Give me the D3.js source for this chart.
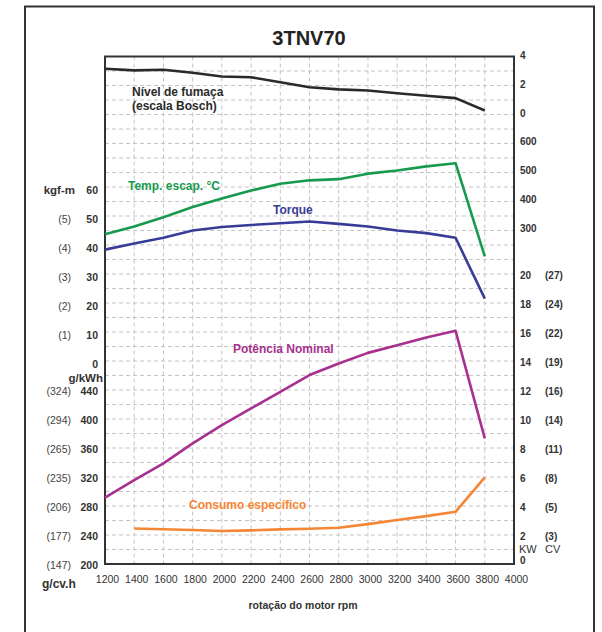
<!DOCTYPE html>
<html><head><meta charset="utf-8">
<script src="https://cdn.jsdelivr.net/npm/d3@7"></script>
<style>body{margin:0;background:#fff;}svg{display:block;font-family:"Liberation Sans",Arial,sans-serif;}</style>
</head><body>
<script>
const rpm = [1200,1400,1600,1800,2000,2200,2400,2600,2800,3000,3200,3400,3600,3800];
const smoke = [3.15,3.04,3.09,2.88,2.62,2.57,2.23,1.88,1.73,1.66,1.47,1.29,1.13,0.28];
const temp = [287,314,346,381,410,438,461,473,477,496,507,521,532,211];
const torque = [38.4,40.5,42.5,45.0,46.2,46.9,47.5,48.1,47.3,46.4,45.0,44.1,42.5,21.5];
const power = [4.57,5.79,6.94,8.32,9.58,10.73,11.87,13.03,13.83,14.56,15.09,15.62,16.08,8.66];
const bsfcRpm = [1400,1600,1800,2000,2200,2400,2600,2800,3000,3200,3400,3600,3800];
const bsfc = [249,248,247,245.5,246.4,247.8,248.6,250,255,260.6,266,272,319.5];

const xTicks = [1200,1400,1600,1800,2000,2200,2400,2600,2800,3000,3200,3400,3600,3800,4000];
const torqueTicks = [60,50,40,30,20,10,0];
const torqueKgf = ["","(5)","(4)","(3)","(2)","(1)",""];
const bsfcTicks = [440,400,360,320,280,240,200];
const bsfcCv = ["(324)","(294)","(265)","(235)","(206)","(177)","(147)"];
const smokeTicks = [4,2,0];
const tempTicks = [600,500,400,300];
const kwTicks = [20,18,16,14,12,10,8,6,4,2];
const cvLabels = ["(27)","(24)","(22)","(19)","(16)","(14)","(11)","(8)","(5)","(3)"];

const W=602,H=632;
const svg = d3.select("body").append("svg").attr("width",W).attr("height",H);

const x = d3.scaleLinear([1200,4000],[105,514]);
const g = d3.scaleLinear([0,35],[56.5,564]);
const ySmoke = d3.scaleLinear([0,4],[g(4),g(0)]);
const yTemp = d3.scaleLinear([300,600],[g(12),g(6)]);
const yTorque = d3.scaleLinear([0,60],[g(21),g(9)]);
const yKW = d3.scaleLinear([0,20],[g(35),g(15)]);
const yBsfc = d3.scaleLinear([200,440],[g(35),g(23)]);

// outer frame
svg.append("rect").attr("x",25).attr("y",6.5).attr("width",569).attr("height",660)
  .attr("fill","none").attr("stroke","#333").attr("stroke-width",2);

// title
svg.append("text").attr("x",309).attr("y",45).attr("text-anchor","middle")
  .attr("font-size",20).attr("font-weight","bold").attr("fill","#222").text("3TNV70");

// grid
const grid = svg.append("g").attr("stroke","#c4c4c4").attr("stroke-width",1).attr("stroke-dasharray","4,3");
grid.selectAll("line.h").data(d3.range(1,35)).join("line")
  .attr("x1",x(1200)).attr("x2",x(4000)).attr("y1",d=>g(d)).attr("y2",d=>g(d));
grid.selectAll("line.v").data(xTicks.slice(1,-1)).join("line")
  .attr("x1",d=>x(d)).attr("x2",d=>x(d)).attr("y1",g(0)).attr("y2",g(35));

// plot frame
svg.append("rect").attr("x",x(1200)).attr("y",g(0)).attr("width",x(4000)-x(1200)).attr("height",g(35)-g(0))
  .attr("fill","none").attr("stroke","#333").attr("stroke-width",2);

// x axis labels
const xAxis = d3.axisBottom(x).tickValues(xTicks).tickFormat(d3.format("d")).tickSize(0).tickPadding(0);
const xa = svg.append("g").attr("transform",`translate(2,${g(35)})`).call(xAxis);
xa.select(".domain").remove();
xa.selectAll("text").attr("y",16).attr("dy","0.32em").attr("font-size",10.5).attr("fill","#333")
  .attr("font-family","Liberation Sans, Arial, sans-serif");
svg.append("text").attr("x",303).attr("y",609).attr("text-anchor","middle")
  .attr("font-size",10.5).attr("font-weight","bold").attr("fill","#333").text("rotação do motor rpm");

// left labels
const left = svg.append("g").attr("font-size",10.5);
left.selectAll("text.t").data(torqueTicks).join("text")
  .attr("x",98).attr("y",d=>yTorque(d)+3).attr("dy","0.35em").attr("text-anchor","end")
  .attr("font-weight","bold").attr("fill","#333").text(d=>d);
left.selectAll("text.tk").data(torqueTicks).join("text")
  .attr("x",71).attr("y",d=>yTorque(d)+3).attr("dy","0.35em").attr("text-anchor","end")
  .attr("fill","#444").text((d,i)=>torqueKgf[i]);
left.selectAll("text.b").data(bsfcTicks).join("text")
  .attr("x",98).attr("y",d=>yBsfc(d)+1.5).attr("dy","0.35em").attr("text-anchor","end")
  .attr("font-weight","bold").attr("fill","#333").text(d=>d);
left.selectAll("text.bc").data(bsfcTicks).join("text")
  .attr("x",71).attr("y",d=>yBsfc(d)+1.5).attr("dy","0.35em").attr("text-anchor","end")
  .attr("fill","#444").text((d,i)=>bsfcCv[i]);
svg.append("text").attr("x",75).attr("y",yTorque(60)+3).attr("dy","0.35em").attr("text-anchor","end")
  .attr("font-size",11.5).attr("font-weight","bold").attr("fill","#333").text("kgf-m");
svg.append("text").attr("x",103).attr("y",378).attr("dy","0.35em").attr("text-anchor","end")
  .attr("font-size",11.5).attr("font-weight","bold").attr("fill","#333").text("g/kWh");
svg.append("text").attr("x",42).attr("y",584).attr("dy","0.35em")
  .attr("font-size",12).attr("font-weight","bold").attr("fill","#333").text("g/cv.h");

// right labels
const right = svg.append("g").attr("font-size",10).attr("font-weight","bold").attr("fill","#333");
right.selectAll("text.s").data(smokeTicks).join("text")
  .attr("x",520).attr("y",d=>ySmoke(d)-1).attr("dy","0.35em").text(d=>d);
right.selectAll("text.tp").data(tempTicks).join("text")
  .attr("x",520).attr("y",d=>yTemp(d)-2.5).attr("dy","0.35em").text(d=>d);
right.selectAll("text.k").data(kwTicks).join("text")
  .attr("x",520).attr("y",d=>yKW(d)+1).attr("dy","0.35em").text(d=>d);
right.selectAll("text.c").data(kwTicks).join("text")
  .attr("x",545).attr("y",d=>yKW(d)+1).attr("dy","0.35em").text((d,i)=>cvLabels[i]);
right.append("text").attr("x",520).attr("y",yKW(0)-4).attr("dy","0.35em").text("0");
svg.append("text").attr("x",519).attr("y",549).attr("dy","0.35em").attr("font-size",11).attr("fill","#333").text("KW");
svg.append("text").attr("x",545).attr("y",549).attr("dy","0.35em").attr("font-size",11).attr("fill","#333").text("CV");

// lines
const line = (ys, xs) => d3.line().x((d,i)=>x(xs[i])).y(d=>ys(d));
const series = [
  {vals:smoke, ys:ySmoke, xs:rpm, color:"#2a2a2a"},
  {vals:temp, ys:yTemp, xs:rpm, color:"#179a4e"},
  {vals:torque, ys:yTorque, xs:rpm, color:"#383c96"},
  {vals:power, ys:yKW, xs:rpm, color:"#a8308e"},
  {vals:bsfc, ys:yBsfc, xs:bsfcRpm, color:"#f58634"}
];
svg.append("g").selectAll("path").data(series).join("path")
  .attr("d",s=>line(s.ys,s.xs)(s.vals)).attr("fill","none")
  .attr("stroke",s=>s.color).attr("stroke-width",2.6).attr("stroke-linejoin","round");

// series labels
const labs = [
  {t:"Nível de fumaça", x:132, y:92, c:"#2a2a2a"},
  {t:"(escala Bosch)", x:132, y:106, c:"#2a2a2a"},
  {t:"Temp. escap. °C", x:128, y:186, c:"#179a4e"},
  {t:"Torque", x:273, y:210, c:"#383c96"},
  {t:"Potência Nominal", x:233, y:349, c:"#a8308e"},
  {t:"Consumo específico", x:189, y:505, c:"#f58634"}
];
svg.append("g").selectAll("text").data(labs).join("text")
  .attr("x",d=>d.x).attr("y",d=>d.y).attr("dy","0.35em").attr("font-size",12).attr("font-weight","bold")
  .attr("fill",d=>d.c).text(d=>d.t);
</script>
</body></html>
